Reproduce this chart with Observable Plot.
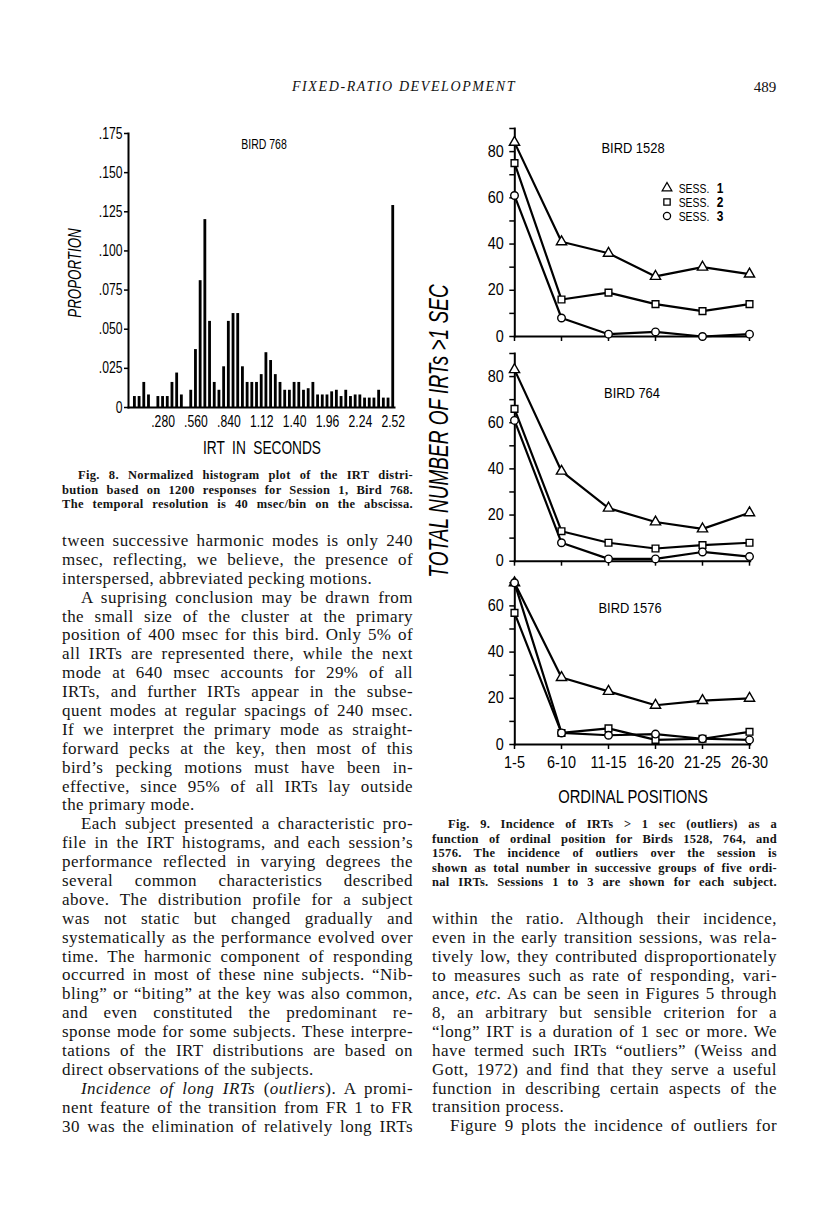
<!DOCTYPE html>
<html>
<head>
<meta charset="utf-8">
<script src="https://cdn.jsdelivr.net/npm/d3@7"></script>
<script src="https://cdn.jsdelivr.net/npm/@observablehq/plot@0.6"></script>
<style>
html, body { margin: 0; padding: 0; background: #fff; }
#page { position: relative; width: 816px; height: 1207px; overflow: hidden; background: #fff; color: #111; }
</style>
</head>
<body>
<div id="page"></div>
<script>
// ---------------- DATA ----------------
// Fig. 8 histogram: proportion per 40-msec bin (bins 1..56), Bird 768, Session 1
const histProportion = [
  0.007, 0.007, 0.016, 0.008, 0.000, 0.007, 0.007, 0.007, 0.016, 0.022,
  0.008, 0.000, 0.011, 0.037, 0.081, 0.120, 0.055, 0.016, 0.011, 0.026,
  0.055, 0.060, 0.060, 0.026, 0.016, 0.016, 0.016, 0.021, 0.035, 0.030,
  0.021, 0.016, 0.011, 0.011, 0.016, 0.016, 0.011, 0.012, 0.016, 0.008,
  0.008, 0.008, 0.010, 0.011, 0.007, 0.011, 0.007, 0.008, 0.008, 0.006,
  0.006, 0.006, 0.011, 0.006, 0.006, 0.129
];
const histTickBins = [7, 14, 21, 28, 35, 42, 49, 56];
const histTickLabels = [".280", ".560", ".840", "1.12", "1.40", "1.96", "2.24", "2.52"];
const histYTicks = [0, 0.025, 0.05, 0.075, 0.1, 0.125, 0.15, 0.175];

// Fig. 9: outliers per group of five ordinal positions
const positions = ["1-5", "6-10", "11-15", "16-20", "21-25", "26-30"];
const sessions = ["SESS. 1", "SESS. 2", "SESS. 3"];
const bird1528 = [
  [84, 41, 36, 26, 30, 27],
  [75, 16, 19, 14, 11, 14],
  [61, 8, 1, 2, 0, 1]
];
const bird764 = [
  [83, 39, 23, 17, 14, 21],
  [66, 13, 8, 5.5, 7, 8],
  [61, 8, 1, 1, 4, 2]
];
const bird1576 = [
  [70, 29, 23, 17, 19, 20],
  [57, 5, 7, 2, 2.5, 5.5],
  [70, 5, 4, 4.5, 2.5, 2]
];

// ---------------- TEXT ----------------
const headerTitle = "FIXED-RATIO DEVELOPMENT";
const pageNumber = "489";
const fig8Caption = [
  "¶Fig. 8. Normalized histogram plot of the IRT distri-",
  "bution based on 1200 responses for Session 1, Bird 768.",
  "The temporal resolution is 40 msec/bin on the abscissa."
];
const fig9Caption = [
  "¶Fig. 9. Incidence of IRTs &gt; 1 sec (outliers) as a",
  "function of ordinal position for Birds 1528, 764, and",
  "1576. The incidence of outliers over the session is",
  "shown as total number in successive groups of five ordi-",
  "nal IRTs. Sessions 1 to 3 are shown for each subject."
];
const leftBody = [
  "tween successive harmonic modes is only 240",
  "msec, reflecting, we believe, the presence of",
  "interspersed, abbreviated pecking motions.",
  "¶A suprising conclusion may be drawn from",
  "the small size of the cluster at the primary",
  "position of 400 msec for this bird. Only 5% of",
  "all IRTs are represented there, while the next",
  "mode at 640 msec accounts for 29% of all",
  "IRTs, and further IRTs appear in the subse-",
  "quent modes at regular spacings of 240 msec.",
  "If we interpret the primary mode as straight-",
  "forward pecks at the key, then most of this",
  "bird’s pecking motions must have been in-",
  "effective, since 95% of all IRTs lay outside",
  "the primary mode.",
  "¶Each subject presented a characteristic pro-",
  "file in the IRT histograms, and each session’s",
  "performance reflected in varying degrees the",
  "several common characteristics described",
  "above. The distribution profile for a subject",
  "was not static but changed gradually and",
  "systematically as the performance evolved over",
  "time. The harmonic component of responding",
  "occurred in most of these nine subjects. “Nib-",
  "bling” or “biting” at the key was also common,",
  "and even constituted the predominant re-",
  "sponse mode for some subjects. These interpre-",
  "tations of the IRT distributions are based on",
  "direct observations of the subjects.",
  "¶<i>Incidence of long IRTs</i> (<i>outliers</i>). A promi-",
  "nent feature of the transition from FR 1 to FR",
  "30 was the elimination of relatively long IRTs"
];
const rightBody = [
  "within the ratio. Although their incidence,",
  "even in the early transition sessions, was rela-",
  "tively low, they contributed disproportionately",
  "to measures such as rate of responding, vari-",
  "ance, <i>etc.</i> As can be seen in Figures 5 through",
  "8, an arbitrary but sensible criterion for a",
  "“long” IRT is a duration of 1 sec or more. We",
  "have termed such IRTs “outliers” (Weiss and",
  "Gott, 1972) and find that they serve a useful",
  "function in describing certain aspects of the",
  "transition process.",
  "¶Figure 9 plots the incidence of outliers for"
];

// ---------------- HELPERS ----------------
const page = document.getElementById("page");
const SANS = '"Liberation Sans", Arial, sans-serif';
const SERIF = '"Liberation Serif", "Times New Roman", serif';

function label(text, cx, cy, o) {
  const d = document.createElement("div");
  d.textContent = text;
  Object.assign(d.style, {
    position: "absolute", left: cx + "px", top: cy + "px", whiteSpace: "pre",
    lineHeight: "1", fontSize: o.size + "px", fontFamily: o.family || SANS,
    fontStyle: o.italic ? "italic" : "normal", fontWeight: o.weight || "normal",
    letterSpacing: (o.ls || 0) + "px", wordSpacing: (o.ws || 0) + "px", color: o.color || "#000",
    transform: `translate(-50%,-50%) rotate(${o.rotate || 0}deg) scaleX(${o.squeeze || 1})`
  });
  page.appendChild(d);
  return d;
}

function column(lines, o) {
  const col = document.createElement("div");
  Object.assign(col.style, {
    position: "absolute", left: o.left + "px", top: o.top + "px", width: o.width + "px",
    fontFamily: SERIF, fontSize: o.size + "px", fontWeight: o.weight || "normal",
    lineHeight: o.lh + "px", color: "#141414"
  });
  page.appendChild(col);
  lines.forEach((raw, i) => {
    const ind = raw.startsWith("¶");
    const html = ind ? raw.slice(1) : raw;
    const next = lines[i + 1];
    const justify = o.justifyAll || next === undefined || !next.startsWith("¶");
    const line = document.createElement("div");
    Object.assign(line.style, { whiteSpace: "nowrap", height: o.lh + "px", paddingLeft: (ind ? o.indent : 0) + "px" });
    const span = document.createElement("span");
    span.innerHTML = html;
    span.style.letterSpacing = o.ls + "px";
    line.appendChild(span);
    col.appendChild(line);
    const avail = o.width - (ind ? o.indent : 0);
    let w = span.getBoundingClientRect().width;
    const txt = span.textContent;
    const spaces = (txt.match(/ /g) || []).length;
    if (justify && spaces > 0) {
      let extra = avail - w;
      if (extra < spaces * 0.5) {
        const ls2 = o.ls + (extra - spaces * 0.5) / txt.length;
        span.style.letterSpacing = ls2 + "px";
        w = span.getBoundingClientRect().width;
        extra = avail - w;
      }
      span.style.wordSpacing = (extra / spaces) + "px";
    }
  });
}

function squeeze(svg, f) {
  svg.querySelectorAll("text").forEach(t => {
    const L = t.getComputedTextLength();
    if (L > 0) {
      t.setAttribute("textLength", L * f);
      t.setAttribute("lengthAdjust", "spacingAndGlyphs");
    }
  });
}

function place(svg, left, top) {
  svg.style.position = "absolute";
  svg.style.left = left + "px";
  svg.style.top = top + "px";
  page.appendChild(svg);
}

// ---------------- HEADER ----------------
label(headerTitle, 404, 87, { size: 14, italic: true, family: SERIF, ls: 1.6, color: "#111" });
label(pageNumber, 765, 87, { size: 15, family: SERIF, color: "#111" });

// ---------------- FIG. 8 HISTOGRAM ----------------
const histPlot = Plot.plot({
  width: 420, height: 370,
  marginLeft: 128, marginRight: 26, marginTop: 33, marginBottom: 63,
  x: { type: "linear", domain: [-0.36, 56.27] },
  y: { domain: [0, 0.175] },
  style: { fontFamily: SANS, fontSize: "16px", background: "transparent", color: "#000", overflow: "visible" },
  marks: [
    Plot.rectY(histProportion, { x1: (d, i) => i + 1 - 0.3, x2: (d, i) => i + 1 + 0.3, y: d => d, fill: "#000" }),
    Plot.frame({ anchor: "left", strokeWidth: 2 }),
    Plot.frame({ anchor: "bottom", strokeWidth: 2 }),
    Plot.axisY({ ticks: histYTicks, tickSize: 4, tickPadding: 2, strokeWidth: 1.5, label: null,
      tickFormat: d => d === 0 ? "0" : d.toFixed(3).slice(1) }),
    Plot.axisX({ ticks: histTickBins, tickSize: 0, tickPadding: 8, label: null,
      tickFormat: d => histTickLabels[histTickBins.indexOf(d)] })
  ]
});
place(histPlot, 0, 100);
squeeze(histPlot, 0.76);

label("BIRD 768", 263.5, 143, { size: 15, squeeze: 0.7 });
label("PROPORTION", 75, 273, { size: 18.5, italic: true, rotate: -90, squeeze: 0.72 });
label("IRT IN SECONDS", 262, 448, { size: 18.5, squeeze: 0.74, ws: 5 });

// ---------------- FIG. 9 PANELS ----------------
function panel(values, yMax, top, height, marginTop, marginBottom, showLabels) {
  const rows = [];
  sessions.forEach((s, si) => values[si].forEach((v, i) => rows.push({ pos: positions[i], v, s })));
  const yt = [];
  for (let t = 0; t <= yMax; t += 10) yt.push(t);
  const p = Plot.plot({
    width: 380, height,
    marginLeft: 94.3, marginRight: 50.3, marginTop, marginBottom,
    x: { type: "point", domain: positions, padding: 0 },
    y: { domain: [0, yMax] },
    symbol: { domain: sessions, range: ["triangle", "square", "circle"] },
    style: { fontFamily: SANS, fontSize: "16px", background: "transparent", color: "#000", overflow: "visible" },
    marks: [
      Plot.frame({ anchor: "left", strokeWidth: 2 }),
      Plot.frame({ anchor: "bottom", strokeWidth: 2 }),
      Plot.axisY({ ticks: yt, tickSize: 5, tickPadding: 6, strokeWidth: 1.5, label: null,
        tickFormat: d => d % 20 === 0 ? String(d) : "" }),
      Plot.axisX({ tickSize: 5, tickPadding: 7, strokeWidth: 1.5, label: null,
        tickFormat: d => showLabels ? d : "" }),
      Plot.line(rows, { x: "pos", y: "v", z: "s", stroke: "#000", strokeWidth: 2.2 }),
      Plot.dot(rows, { x: "pos", y: "v", symbol: "s", fill: "#fff", stroke: "#000", strokeWidth: 1.4, r: 3.8 })
    ]
  });
  place(p, 420, top);
  squeeze(p, 0.9);
}
panel(bird1528, 90, 110, 240, 18, 14, false);
panel(bird764, 90, 335, 240, 18, 14.3, false);
panel(bird1576, 70, 565, 220, 17.3, 41, true);

label("BIRD 1528", 632.5, 147, { size: 15, squeeze: 0.86 });
label("BIRD 764", 631.5, 392, { size: 15, squeeze: 0.86 });
label("BIRD 1576", 630, 607, { size: 15, squeeze: 0.86 });
label("TOTAL NUMBER OF IRTs >1 SEC", 439, 431, { size: 28, italic: true, rotate: -90, squeeze: 0.68 });
label("ORDINAL POSITIONS", 632.5, 797, { size: 18, squeeze: 0.82 });

// legend (Bird 1528 panel)
const legendSymbols = [d3.symbolTriangle, d3.symbolSquare, d3.symbolCircle];
sessions.forEach((s, i) => {
  const cy = 188 + i * 14;
  const svg = d3.create("svg").attr("width", 12).attr("height", 12)
    .style("position", "absolute").style("left", "661px").style("top", (cy - 6) + "px").style("overflow", "visible");
  svg.append("path").attr("transform", "translate(6,6)")
    .attr("d", d3.symbol().type(legendSymbols[i]).size(40)())
    .attr("fill", "#fff").attr("stroke", "#000").attr("stroke-width", 1.3);
  page.appendChild(svg.node());
  const [word, num] = s.split(" ");
  label(word, 694, cy, { size: 13, squeeze: 0.8 });
  label(num, 720, cy, { size: 14, weight: "bold", squeeze: 0.85 });
});

// ---------------- CAPTIONS & BODY TEXT ----------------
column(fig8Caption, { left: 62, top: 468, width: 351, lh: 14.5, size: 12.5, weight: "bold", ls: 0.3, indent: 16, justifyAll: true });
column(fig9Caption, { left: 432, top: 817, width: 345, lh: 14.5, size: 12.5, weight: "bold", ls: 0.3, indent: 16, justifyAll: true });
column(leftBody, { left: 62, top: 532, width: 351, lh: 18.9, size: 17, ls: 0.45, indent: 19 });
column(rightBody, { left: 432, top: 910, width: 345, lh: 18.85, size: 17, ls: 0.45, indent: 18 });
</script>
</body>
</html>
